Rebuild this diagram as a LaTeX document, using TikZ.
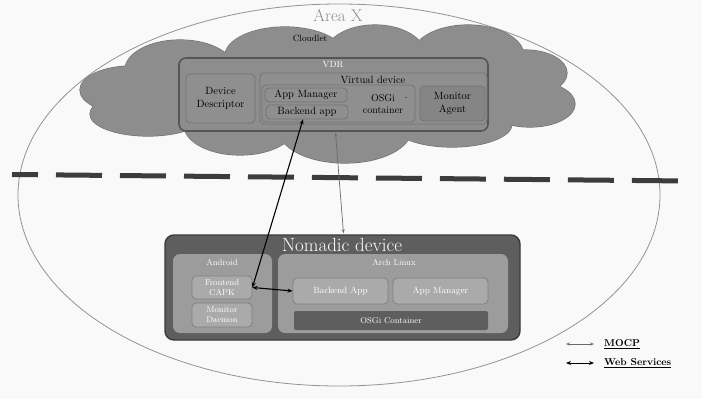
\documentclass[tikz,border=0pt]{standalone}
\usetikzlibrary{arrows.meta,calc}
\definecolor{bgc}{HTML}{F9F9F9}
\definecolor{cloudc}{HTML}{8D8D8D}
\definecolor{cloudb}{HTML}{6E6E6E}
\definecolor{boxb}{HTML}{555555}
\definecolor{innerc}{HTML}{8F8F8F}
\definecolor{innerb}{HTML}{737373}
\definecolor{monc}{HTML}{858585}
\definecolor{nomc}{HTML}{5E5E5E}
\definecolor{nomb}{HTML}{3A3A3A}
\definecolor{midc}{HTML}{9C9C9C}
\definecolor{lightc}{HTML}{AAAAAA}
\definecolor{lightb}{HTML}{808080}
\definecolor{dashc}{HTML}{3C3C3C}
\definecolor{mocpc}{HTML}{6A6A6A}
\begin{document}
\begin{tikzpicture}[x=1pt,y=-1pt,
  vbox/.style={draw=innerb,fill=innerc,rounded corners=4pt,line width=0.8pt,inner sep=0pt,align=center,font=\fontsize{10.5}{12.5}\selectfont},
  nbox/.style={draw=lightb,fill=lightc,rounded corners=4pt,line width=0.8pt,inner sep=0pt,align=center,text=white,font=\fontsize{9}{11}\selectfont},
  wsarrow/.style={{Stealth[length=5pt,width=4pt]}-{Stealth[length=5pt,width=4pt]},line width=1.1pt,black},
  mocparrow/.style={{Stealth[length=4pt,width=3pt]}-{Stealth[length=4pt,width=3pt]},line width=0.7pt,mocpc},
  lbl/.style={inner sep=0pt}
]
\useasboundingbox (0,0) rectangle (702,399);
\fill[bgc] (0,0) rectangle (702,399);
% Area X ellipse
\draw[gray!85,line width=0.8pt] (339,195) ellipse [x radius=321, y radius=191];
\node[lbl,text=gray!90,font=\fontsize{17}{19}\selectfont] (areax) at (338,16) {Area X};
% cloud: union of puffs (outline then fill)
\def\puffs{%
  (180,70) ellipse [x radius=55, y radius=30]
  (285,56) ellipse [x radius=60, y radius=29]
  (375,55) ellipse [x radius=50, y radius=30]
  (468,56) ellipse [x radius=56, y radius=31]
  (525,73) ellipse [x radius=42, y radius=23]
  (530,104) ellipse [x radius=45, y radius=23]
  (452,124) ellipse [x radius=60, y radius=23]
  (345,130) ellipse [x radius=66, y radius=33]
  (240,125) ellipse [x radius=56, y radius=30]
  (148,114) ellipse [x radius=58, y radius=22]
  (132,90) ellipse [x radius=52, y radius=24]
  (335,95) ellipse [x radius=200, y radius=48]}
\draw[cloudb,line width=1.2pt] \puffs;
\fill[cloudc] \puffs;
\node[lbl,font=\fontsize{9}{11}\selectfont] (cloudlet) at (310,38) {Cloudlet};
% VDR
\node[draw=boxb,fill=cloudc,rounded corners=7pt,line width=1.6pt,minimum width=309pt,minimum height=73pt,inner sep=0pt] (vdr) at (333.5,94.5) {};
\node[lbl,text=white,font=\fontsize{9}{11}\selectfont] (vdrl) at (333,65) {VDR};
\node[vbox,minimum width=69pt,minimum height=49pt] (dd) at (220.5,98.5) {Device\\Descriptor};
\node[vbox,minimum width=227pt,minimum height=51pt] (vd) at (373.5,98.5) {};
\node[lbl,font=\fontsize{10.5}{12.5}\selectfont] (vdl) at (373,79.5) {Virtual device};
\node[vbox,minimum width=153pt,minimum height=37pt] (osgi) at (338.5,103.5) {};
\node[lbl,align=center,font=\fontsize{10}{12}\selectfont] (osgil) at (383,104) {OSGi\\container};
\node[lbl,font=\fontsize{10}{12}\selectfont] (dot) at (406,98) {.};
\node[vbox,minimum width=82pt,minimum height=14pt] (appm) at (306,95) {App Manager};
\node[vbox,minimum width=82pt,minimum height=14pt] (backa) at (307,112) {Backend app};
\node[vbox,fill=monc,minimum width=65pt,minimum height=35pt] (mon) at (452.5,103.5) {Monitor\\Agent};
% dashed divider
\draw[dashc,line width=5pt,dash pattern=on 46pt off 18pt,dash phase=20pt] (12,174.5) -- (688,181);
% Nomadic device
\node[draw=nomb,fill=nomc,rounded corners=9pt,line width=1.4pt,minimum width=355pt,minimum height=105pt,inner sep=0pt] (nom) at (342.5,287.5) {};
\node[lbl,text=white,font=\fontsize{19}{21}\selectfont] (noml) at (342,245) {Nomadic device};
\node[draw=none,fill=midc,rounded corners=7pt,minimum width=99pt,minimum height=79pt,inner sep=0pt] (android) at (222.5,293.5) {};
\node[lbl,text=white,font=\fontsize{8.5}{10}\selectfont] (androidl) at (222,263) {Android};
\node[nbox,minimum width=60pt,minimum height=23pt,font=\fontsize{8.5}{10}\selectfont] (fcapk) at (222,287.5) {Frontend\\CAPK};
\node[nbox,minimum width=60pt,minimum height=24pt,font=\fontsize{8.5}{10}\selectfont] (md) at (222,315) {Monitor\\Daemon};
\node[draw=none,fill=midc,rounded corners=7pt,minimum width=230pt,minimum height=79pt,inner sep=0pt] (arch) at (393,293.5) {};
\node[lbl,text=white,font=\fontsize{8.5}{10}\selectfont] (archl) at (394,263) {Arch Linux};
\node[nbox,minimum width=95pt,minimum height=26pt] (bapp) at (340.5,291) {Backend App};
\node[nbox,minimum width=95pt,minimum height=26pt] (appm2) at (440.5,291) {App Manager};
\node[draw=none,fill=nomc,rounded corners=2pt,minimum width=194pt,minimum height=19pt,inner sep=0pt,text=white,font=\fontsize{8.5}{10}\selectfont] (osgic) at (391,320.5) {OSGi Container};
% connectors
\draw[wsarrow] ($(backa.south)+(-4,0)$) -- (fcapk.east);
\draw[wsarrow] (fcapk.east) -- (bapp.west);
\draw[mocparrow] ($(vdr.south)+(2,1)$) -- ($(nom.north)+(1,-1)$);
% legend
\coordinate (m1) at (566,344); \coordinate (m2) at (594,344);
\coordinate (w1) at (566,363); \coordinate (w2) at (594,363);
\draw[mocparrow] (m1) -- (m2);
\draw[wsarrow,line width=0.9pt] (w1) -- (w2);
\node[lbl,anchor=west,font=\fontsize{10}{12}\selectfont\bfseries] (mocpl) at (604,344) {\underline{MOCP}};
\node[lbl,anchor=west,font=\fontsize{10}{12}\selectfont\bfseries] (wsl) at (604,363) {\underline{Web Services}};
\end{tikzpicture}
\end{document}
